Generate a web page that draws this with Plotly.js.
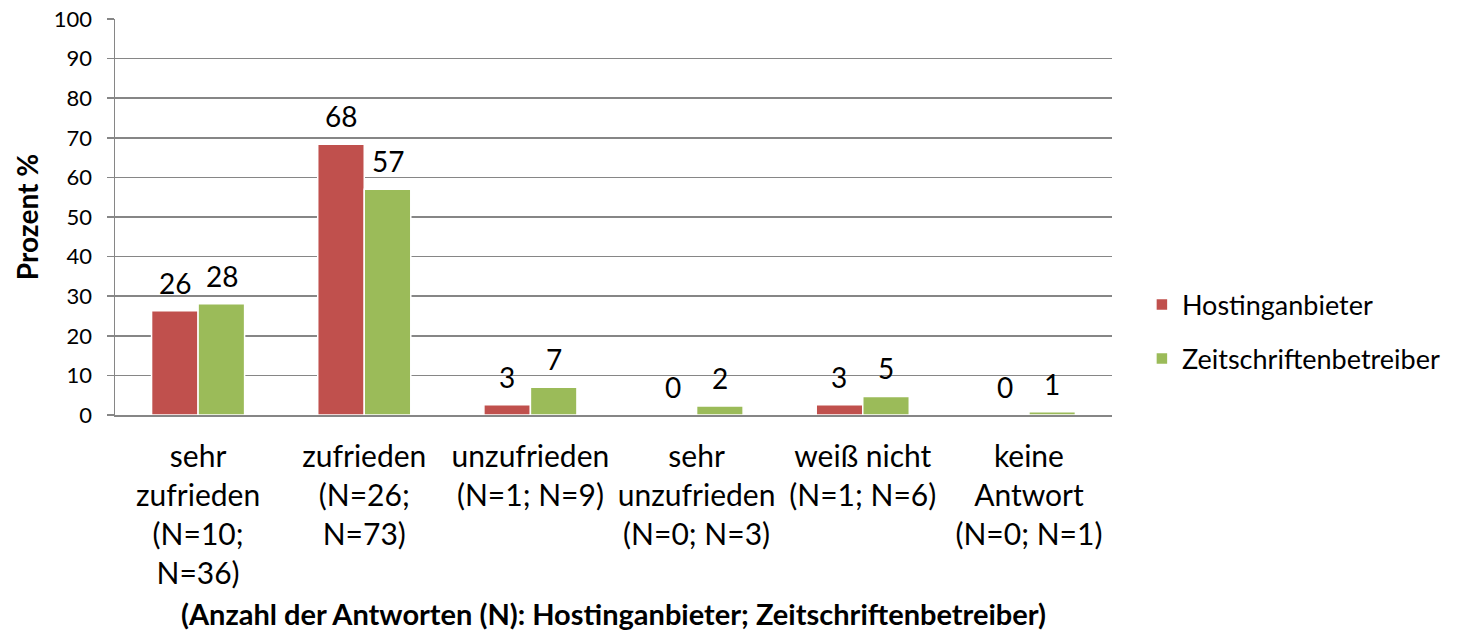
<!DOCTYPE html>
<html><head><meta charset="utf-8">
<script src="https://cdn.plot.ly/plotly-3.0.1.min.js"></script>
<style>body{margin:0;background:#fff}</style>
</head><body>
<div id="chart" style="width:1476px;height:635px"></div>
<script>
const categories = [
  "sehr<br>zufrieden<br>(N=10;<br>N=36)",
  "zufrieden<br>(N=26;<br>N=73)",
  "unzufrieden<br>(N=1; N=9)",
  "sehr<br>unzufrieden<br>(N=0; N=3)",
  "weiß nicht<br>(N=1; N=6)",
  "keine<br>Antwort<br>(N=0; N=1)"
];
const hosting = [26.3, 68.4, 2.6, 0, 2.6, 0];
const zeitschriften = [28.1, 57.0, 7.0, 2.3, 4.7, 0.8];
const hostingLabels = ["26", "68", "3", "0", "3", "0"];
const zeitLabels = ["28", "57", "7", "2", "5", "1"];
const yTicks = [0,10,20,30,40,50,60,70,80,90,100];

const FONT = "Lato, 'Open Sans', sans-serif";
const common = {type:'bar', hoverinfo:'skip'};

const data = [
  Object.assign({}, common, {x:categories, y:hosting, name:'Hostinganbieter',
    legendgroup:'a', marker:{color:'#C0504D', line:{color:'#ffffff', width:1.5}}}),
  Object.assign({}, common, {x:categories, y:zeitschriften, name:'Zeitschriftenbetreiber',
    legendgroup:'b', marker:{color:'#9BBB59', line:{color:'#ffffff', width:1.5}}})
];

const annotations = [];
function addLabels(vals, labels, dx){
  vals.forEach((v, i) => annotations.push({
    x: categories[i], y: v, xref:'x', yref:'y', text: labels[i], showarrow:false,
    xanchor:'center', yanchor:'bottom', xshift: dx, yshift: 9,
    font:{family:FONT, size:28, color:'#000'}
  }));
}
addLabels(hosting, hostingLabels, -23.5);
addLabels(zeitschriften, zeitLabels, 23.5);

const layout = {
  width:1476, height:635,
  margin:{l:115, r:364, t:19, b:220},
  paper_bgcolor:'#fff', plot_bgcolor:'#fff',
  font:{family:FONT, color:'#000'},
  barmode:'group', bargap:0.44, bargroupgap:0,
  showlegend:true,
  annotations: annotations,
  legend:{x:1.03, xanchor:'left', y:0.34, yanchor:'top', font:{family:FONT, size:27, color:'#000'},
    traceorder:'grouped', tracegroupgap:16, itemwidth:30},
  xaxis:{type:'category', showline:true, linecolor:'#868686', linewidth:1.5, ticks:'', showgrid:false,
    tickfont:{family:FONT, size:30, color:'#000'}, ticklabelstandoff:14,
    title:{text:'<b>(Anzahl der Antworten (N): Hostinganbieter; Zeitschriftenbetreiber)</b>',
      font:{family:FONT, size:29, color:'#000'}, standoff:16}},
  yaxis:{range:[0,100], tickvals:yTicks, ticktext:yTicks.map(String), showline:true, linecolor:'#868686', linewidth:1.5,
    ticks:'outside', ticklen:7, tickcolor:'#868686', tickwidth:1.5,
    gridcolor:'#868686', gridwidth:1.5, zeroline:false,
    tickfont:{family:FONT, size:22, color:'#000'}, ticklabelstandoff:10,
    title:{text:'<b>Prozent %</b>', font:{family:FONT, size:28, color:'#000'}, standoff:7}}
};
Plotly.newPlot('chart', data, layout, {displayModeBar:false, staticPlot:true});
</script>
</body></html>
